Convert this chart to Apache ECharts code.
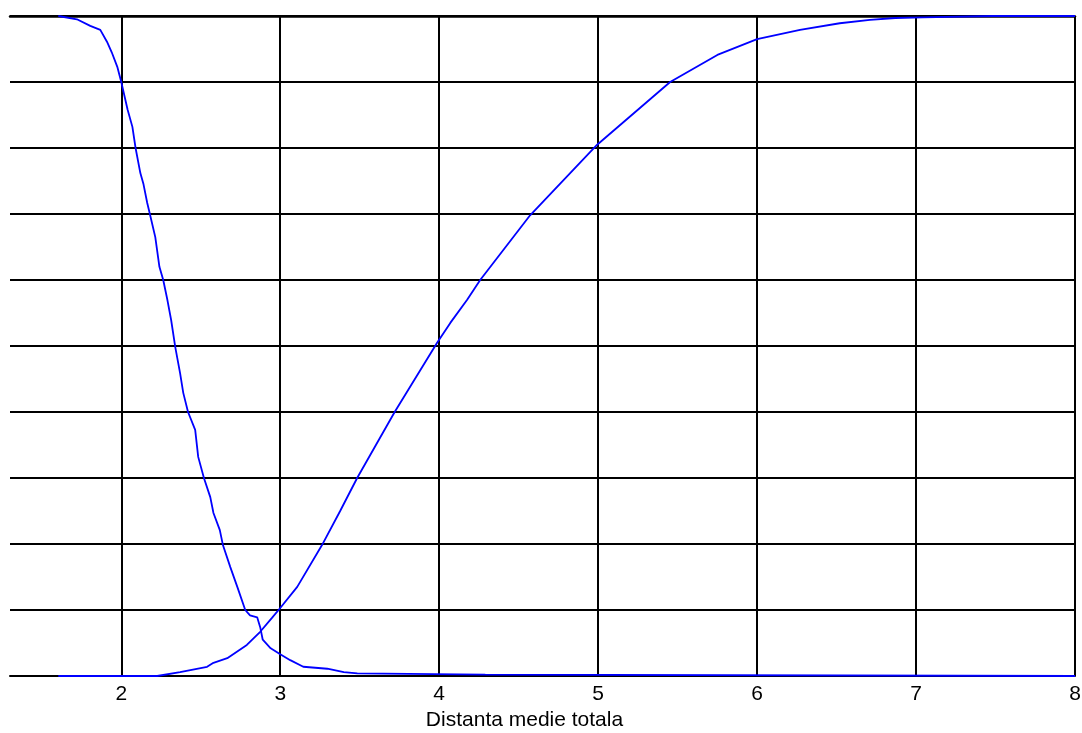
<!DOCTYPE html>
<html>
<head>
<meta charset="utf-8">
<title>Distanta medie totala</title>
<script src="https://cdn.jsdelivr.net/npm/echarts@6/dist/echarts.min.js"></script>
<style>
  html, body { margin: 0; padding: 0; background: #ffffff; }
  #chart { width: 1082px; height: 733px; }
</style>
</head>
<body>
<div id="chart"></div>
<script>
// Decreasing distribution curve (x = total mean distance, y = fraction)
const dropX = [1.604, 1.721, 1.805, 1.868, 1.91, 1.94, 1.975, 2.0, 2.04, 2.07, 2.09, 2.12, 2.14, 2.163, 2.18, 2.214, 2.24, 2.264, 2.29, 2.314, 2.34, 2.37, 2.39, 2.42, 2.465, 2.484, 2.52, 2.56, 2.58, 2.62, 2.64, 2.686, 2.73, 2.78, 2.81, 2.855, 2.874, 2.89, 2.94, 3.0, 3.063, 3.145, 3.296, 3.4, 3.485, 4.29, 4.30, 8.0];
const dropY = [1.0, 0.995, 0.985, 0.979, 0.961, 0.945, 0.923, 0.9, 0.858, 0.832, 0.80, 0.762, 0.745, 0.717, 0.70, 0.665, 0.62, 0.60, 0.57, 0.539, 0.498, 0.459, 0.429, 0.40, 0.373, 0.332, 0.30, 0.271, 0.247, 0.221, 0.198, 0.165, 0.135, 0.10, 0.092, 0.089, 0.074, 0.055, 0.042, 0.033, 0.024, 0.014, 0.011, 0.006, 0.004, 0.002, 0.0, 0.0];

// Increasing cumulative curve
const riseX = [1.604, 2.226, 2.37, 2.54, 2.58, 2.667, 2.79, 2.874, 2.948, 3.0, 3.107, 3.262, 3.377, 3.484, 3.72, 3.987, 4.07, 4.176, 4.258, 4.572, 4.994, 5.453, 5.75, 6.0, 6.27, 6.52, 6.71, 6.87, 7.04, 7.48, 8.0];
const riseY = [0.0, 0.0, 0.006, 0.014, 0.02, 0.027, 0.047, 0.067, 0.088, 0.103, 0.135, 0.198, 0.250, 0.30, 0.40, 0.505, 0.535, 0.57, 0.60, 0.698, 0.805, 0.90, 0.941, 0.965, 0.979, 0.989, 0.994, 0.997, 0.998, 1.0, 1.0];

// Axis settings
const xMin = 1.3;
const xMax = 8;
const xTitle = 'Distanta medie totala';

const pairs = (xs, ys) => xs.map((x, i) => [x, ys[i]]);

const chart = echarts.init(document.getElementById('chart'), null, { renderer: 'canvas' });

const curveStyle = { color: '#0000ff', width: 1.8 };
const textFont = 'Liberation Sans, Arial, sans-serif';

chart.setOption({
  animation: false,
  backgroundColor: '#ffffff',
  grid: { left: 10, right: 7, top: 16, bottom: 57, outerBoundsMode: 'none', containLabel: false },
  xAxis: [
    {
      type: 'value',
      min: xMin,
      max: xMax,
      name: xTitle,
      nameLocation: 'middle',
      nameGap: 34,
      nameTextStyle: {
        fontFamily: textFont,
        fontSize: 21,
        color: '#000000',
        padding: [0, 36, 0, 0]
      },
      axisLine: { show: true, onZero: false, lineStyle: { color: '#000000', width: 2 } },
      axisTick: { show: false },
      axisLabel: {
        showMinLabel: false,
        margin: 8,
        fontFamily: textFont,
        fontSize: 21,
        color: '#000000'
      },
      splitLine: {
        show: true,
        showMinLine: false,
        lineStyle: { color: '#000000', width: 2 }
      }
    },
    {
      type: 'value',
      position: 'top',
      min: xMin,
      max: xMax,
      axisLine: { show: true, onZero: false, lineStyle: { color: '#000000', width: 2.5 } },
      axisTick: { show: false },
      axisLabel: { show: false },
      splitLine: { show: false }
    }
  ],
  yAxis: {
    type: 'value',
    min: 0,
    max: 1,
    interval: 0.1,
    axisLine: { show: false },
    axisTick: { show: false },
    axisLabel: { show: false },
    splitLine: { show: true, lineStyle: { color: '#000000', width: 2 } }
  },
  series: [
    {
      type: 'line',
      data: pairs(dropX, dropY),
      showSymbol: false,
      lineStyle: curveStyle,
      itemStyle: { color: '#0000ff' },
      z: 3
    },
    {
      type: 'line',
      data: pairs(riseX, riseY),
      showSymbol: false,
      lineStyle: curveStyle,
      itemStyle: { color: '#0000ff' },
      z: 3
    }
  ]
});
</script>
</body>
</html>
